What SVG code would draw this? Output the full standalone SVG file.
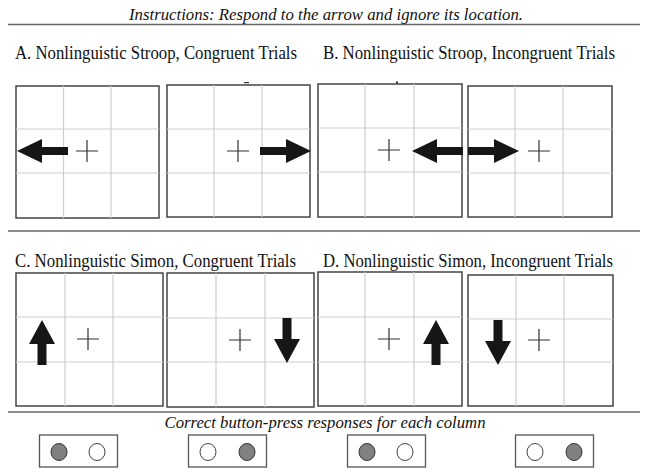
<svg xmlns="http://www.w3.org/2000/svg" xmlns:xlink="http://www.w3.org/1999/xlink" width="649" height="476" viewBox="0 0 649 476">
<style>
.bg{fill:#fff}
.t{font-family:"Liberation Serif","Times New Roman",serif;fill:#111}
.it{font-style:italic;font-size:17px}
.lbl{font-size:18px}
.sep{stroke:#666;stroke-width:1.3}
.box{fill:#fff;stroke:#444;stroke-width:1.5}
.grid{stroke:#cfcfcf;stroke-width:1.2}
.cross{stroke:#333;stroke-width:1.2}
.arrow{fill:#161616}
.btn{fill:#fff;stroke:#555;stroke-width:1.3}
.on{fill:#808080;stroke:#333;stroke-width:1}
.off{fill:#fff;stroke:#444;stroke-width:1}
</style>
<defs>
<path id="ah" d="M0,0 L-25,-12 L-25,-4 L-51,-4 L-51,4 L-25,4 L-25,12 Z"/>
<path id="av" d="M0,0 L-13,24 L-4.5,24 L-4.5,45 L4.5,45 L4.5,24 L13,24 Z"/>
<path id="cr" d="M-11,0 H11 M0,-11 V11"/>
</defs>
<rect class="bg" x="0" y="0" width="649" height="476"/>

<g id="header">
<text class="t it" x="326" y="20" text-anchor="middle" textLength="394" lengthAdjust="spacingAndGlyphs">Instructions: Respond to the arrow and ignore its location.</text>
<line class="sep" x1="8" y1="24.5" x2="640" y2="24.5"/>
</g>

<g id="labels">
<text class="t lbl" x="15" y="59" textLength="282" lengthAdjust="spacingAndGlyphs">A. Nonlinguistic Stroop, Congruent Trials</text>
<text class="t lbl" x="323" y="59" textLength="292" lengthAdjust="spacingAndGlyphs">B. Nonlinguistic Stroop, Incongruent Trials</text>
<text class="t lbl" x="15" y="267" textLength="281" lengthAdjust="spacingAndGlyphs">C. Nonlinguistic Simon, Congruent Trials</text>
<text class="t lbl" x="323" y="267" textLength="290" lengthAdjust="spacingAndGlyphs">D. Nonlinguistic Simon, Incongruent Trials</text>
<rect x="244" y="82" width="5" height="1.2" fill="#333"/>
<rect x="396" y="81.5" width="2" height="2" fill="#222"/>
</g>

<g id="box1">
<rect class="box" x="16" y="86" width="143" height="132"/>
<path class="grid" d="M63.5,86V218 M111,86V218 M16,129H159 M16,173H159"/>
<use href="#cr" class="cross" transform="translate(87,151)"/>
<use href="#ah" class="arrow" transform="translate(17,151) rotate(180)"/>
</g>
<g id="box2">
<rect class="box" x="167" y="85" width="143" height="132"/>
<path class="grid" d="M214,85V217 M262,85V217 M167,129H310 M167,173H310"/>
<use href="#cr" class="cross" transform="translate(238,151)"/>
<use href="#ah" class="arrow" transform="translate(311,151)"/>
</g>
<g id="box3">
<rect class="box" x="318" y="84" width="144" height="133"/>
<path class="grid" d="M365,84V217 M414,84V217 M318,128H462 M318,172H462"/>
<use href="#cr" class="cross" transform="translate(389,150)"/>
<use href="#ah" class="arrow" transform="translate(412,151) rotate(180)"/>
</g>
<g id="box4">
<rect class="box" x="468" y="86" width="144" height="131"/>
<path class="grid" d="M515,86V217 M563,86V217 M468,129H612 M468,173H612"/>
<use href="#cr" class="cross" transform="translate(539,151)"/>
<use href="#ah" class="arrow" transform="translate(519,151)"/>
</g>

<line class="sep" x1="8" y1="231" x2="640" y2="231"/>

<g id="box5">
<rect class="box" x="16" y="273" width="147" height="133"/>
<path class="grid" d="M65,273V406 M113,273V406 M16,317H163 M16,362H163"/>
<use href="#cr" class="cross" transform="translate(88,339)"/>
<use href="#av" class="arrow" transform="translate(42,320)"/>
</g>
<g id="box6">
<rect class="box" x="167" y="273" width="147" height="134"/>
<path class="grid" d="M216,273V407 M265,273V407 M167,318H314 M167,362H314"/>
<use href="#cr" class="cross" transform="translate(240,340)"/>
<use href="#av" class="arrow" transform="translate(287,363) rotate(180)"/>
</g>
<g id="box7">
<rect class="box" x="318" y="272" width="144" height="134"/>
<path class="grid" d="M365,272V406 M414,272V406 M318,317H462 M318,362H462"/>
<use href="#cr" class="cross" transform="translate(389,339)"/>
<use href="#av" class="arrow" transform="translate(436,320)"/>
</g>
<g id="box8">
<rect class="box" x="468" y="275" width="145" height="131"/>
<path class="grid" d="M516,275V406 M564,275V406 M468,319H613 M468,362H613"/>
<use href="#cr" class="cross" transform="translate(539,340)"/>
<use href="#av" class="arrow" transform="translate(498,365) rotate(180)"/>
</g>

<g id="footer">
<line class="sep" x1="8" y1="412" x2="640" y2="412"/>
<text class="t it" x="325" y="428" text-anchor="middle" textLength="321" lengthAdjust="spacingAndGlyphs">Correct button-press responses for each column</text>
</g>

<g id="btn1">
<rect class="btn" x="39.5" y="435" width="78" height="32"/>
<ellipse class="on" cx="59" cy="452" rx="8" ry="8.5"/>
<ellipse class="off" cx="97" cy="452" rx="8" ry="8.5"/>
</g>
<g id="btn2">
<rect class="btn" x="188.5" y="435" width="78" height="32"/>
<ellipse class="off" cx="208" cy="452" rx="8" ry="8.5"/>
<ellipse class="on" cx="247" cy="452" rx="8" ry="8.5"/>
</g>
<g id="btn3">
<rect class="btn" x="347.5" y="435" width="78" height="32"/>
<ellipse class="on" cx="367" cy="452" rx="8" ry="8.5"/>
<ellipse class="off" cx="405" cy="452" rx="8" ry="8.5"/>
</g>
<g id="btn4">
<rect class="btn" x="515.5" y="435" width="78" height="32"/>
<ellipse class="off" cx="535" cy="452" rx="8" ry="8.5"/>
<ellipse class="on" cx="574" cy="452" rx="8" ry="8.5"/>
</g>
</svg>
